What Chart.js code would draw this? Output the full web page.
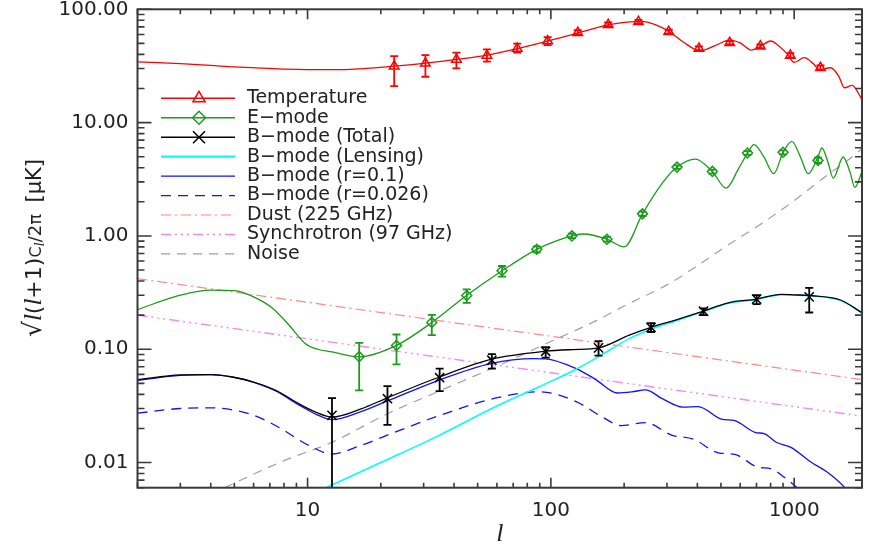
<!DOCTYPE html>
<html><head><meta charset="utf-8">
<script src="https://cdn.jsdelivr.net/npm/chart.js@4.4.0/dist/chart.umd.min.js"></script>
<style>html,body{margin:0;padding:0;background:#fff;}canvas{display:block;}</style>
</head><body>
<canvas id="c" width="870" height="548" style="width:870px;height:548px"></canvas>
<script>
// ---------- axis ticks ----------
const xTickValues = [10, 100, 1000];
const xTickLabels = ['10', '100', '1000'];
const yTickValues = [0.01, 0.1, 1, 10, 100];
const yTickLabels = ['0.01', '0.10', '1.00', '10.00', '100.00'];
const xTitle = 'l';

// ---------- legend ----------
const legendLabels = ['Temperature', 'E\u2212mode', 'B\u2212mode (Total)', 'B\u2212mode (Lensing)',
  'B\u2212mode (r=0.1)', 'B\u2212mode (r=0.026)', 'Dust (225 GHz)', 'Synchrotron (97 GHz)', 'Noise'];

// ---------- Temperature ----------
const tempCurveL = [2, 3, 4, 5, 6.5, 8, 10, 12, 15, 18, 22.7, 30.5, 41, 55, 73, 97, 130, 172, 205, 235, 270, 305, 350, 410, 470, 543, 600, 667, 726, 800, 860, 930, 1000, 1100, 1200, 1270, 1413, 1520, 1612, 1730, 1900];
const tempCurveV = [34.4, 33.2, 32.0, 31.0, 30.2, 29.7, 29.4, 29.3, 29.5, 30.2, 31.5, 33.5, 36.1, 39.4, 45.0, 52.3, 62.0, 72.8, 77.0, 78.2, 73.0, 64.0, 51.5, 43.0, 47.5, 53.5, 50.5, 43.7, 47.0, 52.5, 48.0, 41.0, 34.0, 37.4, 33.0, 29.3, 30.5, 26.0, 20.3, 21.3, 16.0];
const tempPtL = [22.7, 30.5, 40.9, 54.6, 72.7, 97, 129, 172, 229, 305, 406, 543, 726, 964, 1282];
const tempPtV = [31.5, 33.4, 36.1, 39.2, 45.2, 52.5, 62.2, 73.2, 77.8, 63.4, 45.2, 50.7, 47.3, 39.2, 30.5];
const tempPtLo = [21.0, 25.4, 30.1, 34.6, 41.4, 48.3, 59.5, 70.5, 75.0, 61.0, 43.5, 49.0, 45.5, 37.5, 29.0];
const tempPtHi = [38.6, 39.4, 41.4, 44.3, 49.7, 56.9, 65.5, 76.5, 80.5, 66.0, 47.0, 52.5, 49.0, 41.0, 32.0];

// ---------- E-mode ----------
const eCurveL = [2, 3, 4, 5, 6, 7.2, 8.4, 9.8, 11, 12.6, 16.2, 23.2, 32.4, 45, 63, 87.5, 122, 136, 170, 200, 238, 287, 330, 392, 461, 525, 590, 643, 684, 750, 824, 900, 979, 1060, 1141, 1253, 1300, 1380, 1448, 1590, 1700, 1775, 1900];
const eCurveV = [0.224, 0.300, 0.333, 0.329, 0.290, 0.229, 0.163, 0.112, 0.100, 0.0946, 0.0855, 0.108, 0.172, 0.298, 0.493, 0.762, 1.0, 1.04, 0.935, 0.80, 1.566, 2.92, 4.05, 4.77, 3.71, 2.64, 3.9, 5.39, 6.39, 5.0, 3.54, 5.47, 6.83, 5.0, 3.54, 5.0, 5.97, 4.4, 3.24, 4.97, 3.6, 2.68, 3.71];
const ePtL = [16.3, 23.2, 32.4, 45.1, 63, 87.5, 122, 170, 238, 330, 461, 643, 900, 1253];
const ePtV = [0.0860, 0.108, 0.172, 0.298, 0.493, 0.762, 1.0, 0.935, 1.566, 4.05, 3.71, 5.39, 5.47, 4.64];
const ePtLo = [0.0434, 0.0736, 0.133, 0.257, 0.437, 0.715, 0.955, 0.89, 1.50, 3.9, 3.55, 5.2, 5.25, 4.4];
const ePtHi = [0.1138, 0.135, 0.201, 0.337, 0.543, 0.81, 1.05, 0.98, 1.64, 4.2, 3.85, 5.6, 5.7, 4.9];

// ---------- B-mode total ----------
const bTotL = [2, 3, 4, 4.9, 6, 7.4, 9.2, 10.8, 12.6, 16.6, 21.3, 34.8, 57.2, 95, 123, 157, 210, 258, 325, 424, 536, 701, 883, 1000, 1153, 1550, 1900];
const bTotV = [0.054, 0.0593, 0.0598, 0.0569, 0.0514, 0.0434, 0.0331, 0.0279, 0.0252, 0.0298, 0.0373, 0.0569, 0.0817, 0.096, 0.0994, 0.1027, 0.133, 0.1556, 0.181, 0.217, 0.257, 0.277, 0.305, 0.302, 0.298, 0.272, 0.21];
const bPtL = [12.6, 21.3, 34.9, 57.2, 95.2, 157, 258, 424, 701, 1153];
const bPtV = [0.0261, 0.0366, 0.0561, 0.080, 0.096, 0.1027, 0.1556, 0.217, 0.277, 0.290];
const bPtLo = [0.001, 0.0215, 0.0427, 0.0675, 0.0843, 0.088, 0.142, 0.200, 0.250, 0.211];
const bPtHi = [0.037, 0.0473, 0.0675, 0.0904, 0.1046, 0.118, 0.170, 0.229, 0.300, 0.348];

// ---------- B-mode lensing ----------
const lensL = [11.3, 20, 33.3, 60, 90, 123, 157, 210, 258, 325, 424, 536, 701, 883, 1000, 1153, 1550, 1900];
const lensV = [0.0057, 0.0100, 0.0166, 0.0315, 0.047, 0.0643, 0.086, 0.124, 0.150, 0.178, 0.215, 0.255, 0.275, 0.303, 0.300, 0.297, 0.270, 0.209];

// ---------- B-mode r=0.1 ----------
const r01L = [2, 3, 4, 5, 6, 7.4, 9.2, 10.8, 12.6, 16.6, 21.3, 34.8, 56.5, 85, 95, 127, 153, 188, 215, 245, 287, 348, 403, 502, 570, 689, 757, 843, 970, 1171, 1370, 1615, 1700];
const r01V = [0.0531, 0.0588, 0.0596, 0.0565, 0.051, 0.0428, 0.0322, 0.0268, 0.0239, 0.0282, 0.0350, 0.0535, 0.0747, 0.0826, 0.0822, 0.0675, 0.0540, 0.0411, 0.0420, 0.0438, 0.0366, 0.0309, 0.0312, 0.0242, 0.0234, 0.0185, 0.0179, 0.0151, 0.0136, 0.0101, 0.0082, 0.0060, 0.0052];

// ---------- B-mode r=0.026 ----------
const r0026L = [2, 3, 4, 5, 6, 7.6, 10.1, 12.6, 16.6, 22.8, 34.8, 59, 90, 127, 164, 194, 245, 313, 387, 487, 570, 710, 804, 912, 1020, 1100];
const r0026V = [0.0273, 0.0300, 0.0304, 0.0290, 0.0262, 0.0205, 0.0142, 0.0119, 0.0142, 0.0185, 0.0260, 0.0370, 0.0421, 0.0345, 0.0250, 0.0212, 0.0225, 0.0175, 0.0160, 0.0122, 0.0118, 0.0091, 0.0088, 0.0074, 0.0061, 0.0053];

// ---------- foregrounds & noise ----------
const dustL = [2, 1900];
const dustV = [0.42, 0.054];
const syncL = [2, 1900];
const syncV = [0.200, 0.0257];
const noiseL = [4.55, 8, 12.6, 21.3, 35, 59, 100, 153, 203, 300, 387, 520, 733, 1000, 1370, 1650, 1900];
const noiseV = [0.006, 0.0104, 0.0151, 0.027, 0.0430, 0.0697, 0.117, 0.178, 0.245, 0.37, 0.52, 0.80, 1.28, 2.05, 3.45, 4.6, 5.9];

// ---------- styles ----------
const RED = '#ff0000', GREEN = '#1a9c1a', BLACK = '#000000', CYAN = '#00ffff', BLUE = '#1010ff',
      DUST = '#ff8a80', SYNC = '#f08cf0', GRAY = '#a0a0a0', AXIS = '#3a3a3a';
const DASH_R = [10, 7], DASH_DUST = [10, 4, 2, 4], DASH_SYNC = [10, 4, 2, 4, 2, 4, 2, 4], DASH_NOISE = [9, 7];

function pts(L, V) { return L.map((l, i) => ({ x: l, y: V[i] })); }
function curve(label, L, V, color, width, dash) {
  return { label, data: pts(L, V), borderColor: color, borderWidth: width, borderDash: dash || [],
    pointRadius: 0, pointHoverRadius: 0, fill: false, cubicInterpolationMode: 'monotone' };
}
function markers(label, L, V, color, style, r) {
  return { label, data: pts(L, V), showLine: false, pointStyle: style, pointRadius: r, pointHoverRadius: r,
    pointBorderColor: color, pointBackgroundColor: 'rgba(0,0,0,0)', pointBorderWidth: 1.5, borderColor: color };
}

const errorSets = [
  { L: tempPtL, lo: tempPtLo, hi: tempPtHi, color: RED },
  { L: ePtL, lo: ePtLo, hi: ePtHi, color: GREEN },
  { L: bPtL, lo: bPtLo, hi: bPtHi, color: BLACK }
];

const legendItems = [
  { color: RED, width: 1.5, dash: [], marker: 'triangle', r: 7 },
  { color: GREEN, width: 1.5, dash: [], marker: 'rectRot', r: 6.5 },
  { color: BLACK, width: 1.5, dash: [], marker: 'crossRot', r: 8.5 },
  { color: CYAN, width: 2.2, dash: [] },
  { color: BLUE, width: 1.3, dash: [] },
  { color: BLUE, width: 1.3, dash: DASH_R },
  { color: DUST, width: 1.2, dash: DASH_DUST },
  { color: SYNC, width: 1.5, dash: DASH_SYNC },
  { color: GRAY, width: 1.2, dash: DASH_NOISE }
];

const errorBarPlugin = {
  id: 'errbars',
  afterDatasetsDraw(chart) {
    const { ctx, chartArea: a, scales: { x, y } } = chart;
    ctx.save();
    ctx.beginPath(); ctx.rect(a.left, a.top, a.right - a.left, a.bottom - a.top); ctx.clip();
    ctx.lineWidth = 1.8;
    errorSets.forEach(s => {
      ctx.strokeStyle = s.color;
      ctx.beginPath();
      s.L.forEach((l, i) => {
        const px = x.getPixelForValue(l), p1 = y.getPixelForValue(s.lo[i]), p2 = y.getPixelForValue(s.hi[i]);
        ctx.moveTo(px, p1); ctx.lineTo(px, p2);
        ctx.moveTo(px - 4, p1); ctx.lineTo(px + 4, p1);
        ctx.moveTo(px - 4, p2); ctx.lineTo(px + 4, p2);
      });
      ctx.stroke();
    });
    ctx.restore();
  }
};

const framePlugin = {
  id: 'frame',
  afterDraw(chart) {
    const { ctx, chartArea: a, scales: { x, y } } = chart;
    ctx.save();
    ctx.strokeStyle = AXIS;
    ctx.lineWidth = 2;
    ctx.strokeRect(a.left, a.top, a.right - a.left, a.bottom - a.top);
    ctx.lineWidth = 1.6;
    ctx.beginPath();
    for (let e = 0; e <= 3; e++) for (let m = 1; m <= 9; m++) {
      const v = m * Math.pow(10, e);
      if (v < x.min * 0.999 || v > x.max * 1.001) continue;
      const px = x.getPixelForValue(v), len = m === 1 ? 10 : 5;
      ctx.moveTo(px, a.bottom); ctx.lineTo(px, a.bottom - len);
      ctx.moveTo(px, a.top); ctx.lineTo(px, a.top + len);
    }
    for (let e = -3; e <= 2; e++) for (let m = 1; m <= 9; m++) {
      const v = m * Math.pow(10, e);
      if (v < y.min * 0.999 || v > y.max * 1.001) continue;
      const py = y.getPixelForValue(v), len = m === 1 ? 14 : 7;
      ctx.moveTo(a.left, py); ctx.lineTo(a.left + len, py);
      ctx.moveTo(a.right, py); ctx.lineTo(a.right - len, py);
    }
    ctx.stroke();

    // legend
    const y0 = 98.3, dy = 19.45;
    legendItems.forEach((it, i) => {
      const yy = y0 + i * dy;
      ctx.save();
      ctx.strokeStyle = it.color; ctx.lineWidth = it.width; ctx.setLineDash(it.dash);
      ctx.beginPath(); ctx.moveTo(161, yy); ctx.lineTo(235, yy); ctx.stroke();
      ctx.setLineDash([]);
      if (it.marker) {
        ctx.fillStyle = 'rgba(0,0,0,0)'; ctx.lineWidth = 1.5; ctx.strokeStyle = it.color;
        Chart.helpers.drawPoint(ctx, { pointStyle: it.marker, radius: it.r, borderWidth: 1.5, rotation: 0 }, 199, yy);
      }
      ctx.restore();
      ctx.fillStyle = '#222'; ctx.font = '19px "DejaVu Sans"'; ctx.textBaseline = 'middle'; ctx.textAlign = 'left';
      ctx.fillText(legendLabels[i], 247, yy);
    });

    // x title
    ctx.fillStyle = '#222';
    ctx.font = 'italic 26px "Liberation Serif"';
    ctx.textAlign = 'center'; ctx.textBaseline = 'alphabetic';
    ctx.fillText(xTitle, (a.left + a.right) / 2, 541);

    // y title (rotated, mixed sizes)
    const segs = [
      { t: '\u221a', f: '25px "DejaVu Sans"', dy: 0 },
      { t: 'l', f: 'italic 25px "Liberation Serif"', dy: 0 },
      { t: '(', f: '22px "DejaVu Sans"', dy: 0 },
      { t: 'l', f: 'italic 25px "Liberation Serif"', dy: 0 },
      { t: '+1)', f: '22px "DejaVu Sans"', dy: 0 },
      { t: 'C', f: '16px "DejaVu Sans"', dy: 0 },
      { t: 'l', f: 'italic 15px "Liberation Serif"', dy: 3 },
      { t: '/2\u03c0  ', f: '18px "DejaVu Sans"', dy: 0 },
      { t: '[\u03bcK]', f: '21px "DejaVu Sans"', dy: 0 }
    ];
    let total = 0;
    segs.forEach(s => { ctx.font = s.f; s.w = ctx.measureText(s.t).width; total += s.w; });
    ctx.save();
    ctx.translate(41, 248);
    ctx.rotate(-Math.PI / 2);
    ctx.textAlign = 'left'; ctx.textBaseline = 'alphabetic';
    let cx = -total / 2;
    segs.forEach(s => { ctx.font = s.f; ctx.fillText(s.t, cx, s.dy); cx += s.w; });
    ctx.restore();
    ctx.restore();
  }
};

const cfg = {
  type: 'line',
  data: {
    datasets: [
      markers('Temperature points', tempPtL, tempPtV, RED, 'triangle', 5.5),
      markers('E-mode points', ePtL, ePtV, GREEN, 'rectRot', 5),
      markers('B-mode points', bPtL, bPtV, BLACK, 'crossRot', 6.5),
      curve(legendLabels[0], tempCurveL, tempCurveV, RED, 1.3),
      curve(legendLabels[1], eCurveL, eCurveV, GREEN, 1.3),
      curve(legendLabels[2], bTotL, bTotV, BLACK, 1.3),
      curve(legendLabels[3], lensL, lensV, CYAN, 1.6),
      curve(legendLabels[4], r01L, r01V, BLUE, 1.3),
      curve(legendLabels[5], r0026L, r0026V, BLUE, 1.3, DASH_R),
      curve(legendLabels[6], dustL, dustV, DUST, 1.2, DASH_DUST),
      curve(legendLabels[7], syncL, syncV, SYNC, 1.4, DASH_SYNC),
      curve(legendLabels[8], noiseL, noiseV, GRAY, 1.2, DASH_NOISE)
    ]
  },
  options: {
    responsive: false,
    animation: false,
    events: [],
    layout: { padding: { top: 9.3, right: 1.5, left: 0, bottom: 0 } },
    plugins: { legend: { display: false }, tooltip: { enabled: false }, title: { display: false } },
    scales: {
      x: {
        type: 'logarithmic', min: 2, max: 1900,
        grid: { display: false, drawTicks: false }, border: { display: false },
        afterBuildTicks: s => { s.ticks = xTickValues.map(v => ({ value: v })); },
        afterFit: s => { s.height = 60.3; s.paddingLeft = 0; s.paddingRight = 0; },
        ticks: {
          autoSkip: false, maxRotation: 0, padding: 11, color: '#222',
          font: { family: 'DejaVu Sans', size: 20 },
          callback: v => { const i = xTickValues.findIndex(t => Math.abs(t - v) / t < 1e-6); return i >= 0 ? xTickLabels[i] : ''; }
        }
      },
      y: {
        type: 'logarithmic', min: 0.006, max: 100,
        grid: { display: false, drawTicks: false }, border: { display: false },
        afterBuildTicks: s => { s.ticks = yTickValues.map(v => ({ value: v })); },
        afterFit: s => { s.width = 137.5; s.paddingTop = 0; s.paddingBottom = 0; },
        ticks: {
          autoSkip: false, padding: 9, color: '#222',
          font: { family: 'DejaVu Sans', size: 20 },
          callback: v => { const i = yTickValues.findIndex(t => Math.abs(t - v) / t < 1e-6); return i >= 0 ? yTickLabels[i] : ''; }
        }
      }
    }
  },
  plugins: [errorBarPlugin, framePlugin]
};
new Chart(document.getElementById('c'), cfg);
</script>
</body></html>
